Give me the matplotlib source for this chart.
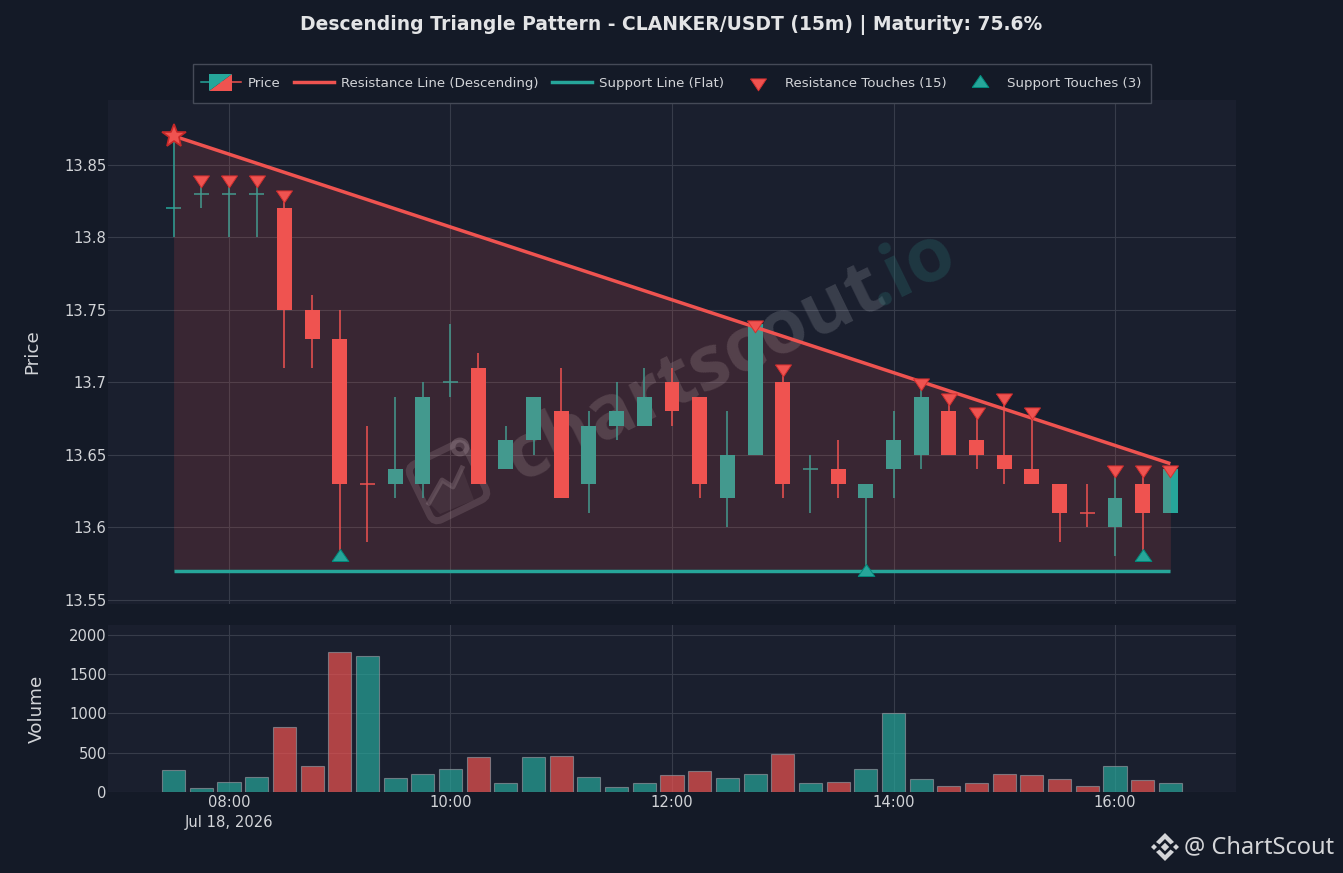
import pandas as pd
import matplotlib
matplotlib.use("Agg")
from matplotlib import pyplot as plt
from matplotlib.legend_handler import HandlerBase
from matplotlib.lines import Line2D
from matplotlib.patches import Polygon, Rectangle, FancyBboxPatch, Circle
from matplotlib.transforms import Affine2D

# 15 minute candles
times = pd.date_range("2026-07-18 07:30", "2026-07-18 16:30", freq="15min")
opens = [13.82, 13.83, 13.83, 13.83, 13.82, 13.75, 13.73, 13.63, 13.63, 13.63, 13.70, 13.71, 13.64,
         13.66, 13.68, 13.63, 13.67, 13.67, 13.70, 13.69, 13.62, 13.65, 13.70, 13.64, 13.64, 13.62,
         13.64, 13.65, 13.68, 13.66, 13.65, 13.64, 13.63, 13.61, 13.60, 13.63, 13.61]
closes = [13.82, 13.83, 13.83, 13.83, 13.75, 13.73, 13.63, 13.63, 13.64, 13.69, 13.70, 13.63, 13.66,
          13.69, 13.62, 13.67, 13.68, 13.69, 13.68, 13.63, 13.65, 13.74, 13.63, 13.64, 13.63, 13.63,
          13.66, 13.69, 13.65, 13.65, 13.64, 13.63, 13.61, 13.61, 13.62, 13.61, 13.64]
highs = [13.87, 13.84, 13.84, 13.84, 13.83, 13.76, 13.75, 13.67, 13.69, 13.70, 13.74, 13.72, 13.67,
         13.69, 13.71, 13.68, 13.70, 13.71, 13.71, 13.69, 13.68, 13.74, 13.71, 13.65, 13.66, 13.63,
         13.68, 13.70, 13.69, 13.68, 13.69, 13.68, 13.63, 13.63, 13.64, 13.64, 13.64]
lows = [13.80, 13.82, 13.80, 13.80, 13.71, 13.71, 13.58, 13.59, 13.62, 13.62, 13.69, 13.63, 13.64,
        13.65, 13.62, 13.61, 13.66, 13.67, 13.67, 13.62, 13.60, 13.65, 13.62, 13.61, 13.62, 13.57,
        13.62, 13.64, 13.65, 13.64, 13.63, 13.63, 13.59, 13.60, 13.58, 13.58, 13.61]
candle_up = [1, 1, 1, 1, 0, 0, 0, 0, 1, 1, 1, 0, 1, 1, 0, 1, 1, 1, 0, 0, 1, 1, 0, 1, 0, 1, 1, 1, 0, 0, 0, 0, 0, 0, 1, 0, 1]

volumes = [275, 50, 130, 190, 830, 330, 1780, 1730, 180, 225, 290, 440, 115, 450, 455, 190, 65, 115, 220,
           265, 180, 225, 480, 110, 125, 295, 1000, 165, 75, 110, 235, 215, 165, 80, 330, 150, 110]
volume_up = [1, 1, 1, 1, 0, 0, 0, 1, 1, 1, 1, 0, 1, 1, 0, 1, 1, 1, 0, 0, 1, 1, 0, 1, 0, 1, 1, 1, 0, 0, 0, 0, 0, 0, 1, 0, 1]

resistance_start = 13.87
resistance_end = 13.644
support_level = 13.57
star_index = 0
resistance_touch_index = [1, 2, 3, 4, 21, 22, 27, 28, 29, 30, 31, 34, 35, 36]
support_touch_index = [6, 25, 35]
support_touch_price = [13.58, 13.57, 13.58]

title = "Descending Triangle Pattern - CLANKER/USDT (15m) | Maturity: 75.6%"
hour_ticks = ["08:00", "10:00", "12:00", "14:00", "16:00"]
price_ticks = [13.55, 13.6, 13.65, 13.7, 13.75, 13.8, 13.85]
price_labels = ["13.55", "13.6", "13.65", "13.7", "13.75", "13.8", "13.85"]
volume_ticks = [0, 500, 1000, 1500, 2000]

PAGE = "#141a27"
PANEL = "#1a1f2e"
GREEN = "#26a69a"
RED = "#ef5350"
TEXT = "#d2d4d8"
GRID = "#373c4a"
MARK_GREY = "#a0a3ad"
W, H = 1343, 873

# flatter triangles than the built in v and ^, tip is off centre
TRI_DOWN = [(-1, 0.45), (1, 0.45), (0, -1.05), (-1, 0.45)]
TRI_UP = [(-1, -0.6), (1, -0.6), (0, 0.85), (-1, -0.6)]

plt.rcParams["font.family"] = "DejaVu Sans"
fig = plt.figure(figsize=(W / 100, H / 100), dpi=100, facecolor=PAGE)
ax = fig.add_axes([108 / W, 1 - 604 / H, 1128 / W, 504 / H], facecolor=PANEL)
ax_vol = fig.add_axes([108 / W, 1 - 792 / H, 1128 / W, 167 / H], facecolor=PANEL)

# pixel coords, origin top left, for the watermarks
px = Affine2D().scale(1, -1).translate(0, H)

day = "2026-07-18 "
xlim = [pd.Timestamp(day + "06:54:27"), pd.Timestamp(day + "17:05:33")]
tick_times = [pd.Timestamp(day + t) for t in hour_ticks]
body_w = pd.Timedelta(minutes=8.1)
bar_w = pd.Timedelta(minutes=12.5)

for a in (ax, ax_vol):
    a.set_xlim(xlim)
    a.set_xticks(tick_times)
    a.grid(color=GRID, linewidth=0.8, zorder=0)
    a.set_axisbelow(True)
    for s in a.spines.values():
        s.set_visible(False)
    a.tick_params(length=0, colors=TEXT, labelsize=10.6, pad=1)

# watermark, under the candles
ax.text(704, 391, "chartscout", transform=px, rotation=26, rotation_mode="anchor", ha="center", va="baseline",
        fontsize=55, fontweight="bold", family="Open Sans", color=MARK_GREY, alpha=0.24, zorder=1)
ax.text(877, 307, ".io", transform=px, rotation=26, rotation_mode="anchor", ha="left", va="baseline",
        fontsize=55, fontweight="bold", family="Open Sans", color="#2e8a85", alpha=0.23, zorder=1)
icon_rot = Affine2D().rotate_deg_around(448, 482, -26) + px
ax.add_patch(FancyBboxPatch((417, 451), 62, 62, boxstyle="round,pad=0,rounding_size=9", fill=False,
                            edgecolor=MARK_GREY, alpha=0.22, linewidth=5, transform=icon_rot, zorder=1))
ax.add_patch(Polygon([(429, 503), (442, 480), (453, 487), (462, 468), (474, 500), (440, 514)], color=MARK_GREY,
                     alpha=0.1, lw=0, transform=px, zorder=1))
ax.add_line(Line2D([429, 442, 453, 462], [503, 480, 487, 468], color=MARK_GREY, alpha=0.27, linewidth=3.5,
                   transform=px, zorder=1))
ax.add_patch(Circle((460, 447), 7, fill=False, edgecolor=MARK_GREY, alpha=0.32, linewidth=3.5,
                    transform=px, zorder=1))

# candles
for t, o, c, h, l, up in zip(times, opens, closes, highs, lows, candle_up):
    col = GREEN if up else RED
    ax.plot([t, t], [l, h], color=col, linewidth=1.1, zorder=2, solid_capstyle="butt")
    if o == c:
        ax.plot([t - body_w / 2, t + body_w / 2], [o, o], color=col, linewidth=1.1, zorder=2,
                solid_capstyle="butt")
    else:
        ax.bar(t, abs(c - o), bottom=min(o, c), width=body_w, color=col, zorder=2, linewidth=0)

# triangle region goes over the candles
ax.fill_between([times[0], times[-1]], [resistance_start, resistance_end], [support_level, support_level],
                color=RED, alpha=0.15, linewidth=0, zorder=3)
ax.plot([times[0], times[-1]], [resistance_start, resistance_end], color=RED, linewidth=2.5, zorder=4,
        solid_capstyle="butt")
ax.plot([times[0], times[-1]], [support_level, support_level], color=GREEN, linewidth=2.5, zorder=4,
        solid_capstyle="butt")

ax.plot([times[i] for i in resistance_touch_index], [highs[i] for i in resistance_touch_index], linestyle="",
        marker=TRI_DOWN, color=RED, markersize=12, markeredgecolor="#d32f2f", markeredgewidth=0.7, zorder=5)
ax.plot([times[star_index]], [highs[star_index]], "*", color=RED, markersize=18,
        markeredgecolor="#c62828", markeredgewidth=1.2, zorder=5)
ax.plot([times[i] for i in support_touch_index], support_touch_price, linestyle="", marker=TRI_UP, color=GREEN,
        markersize=12, markeredgecolor="#00897b", markeredgewidth=0.7, zorder=5)

ax.set_xticklabels([])
ax.set_ylim(13.5472, 13.8948)
ax.set_yticks(price_ticks)
ax.set_yticklabels(price_labels)
ax.set_ylabel("Price", color=TEXT, fontsize=13.2)
ax.yaxis.set_label_coords(-0.0594, 0.5)

# volume
vol_colors = [GREEN if u else RED for u in volume_up]
ax_vol.bar(times, volumes, width=bar_w, color=vol_colors, alpha=0.7, edgecolor="#8d9299", linewidth=0.8, zorder=2)
ax_vol.set_ylim(0, 2127)
ax_vol.set_yticks(volume_ticks)
ax_vol.set_xticks(tick_times)
ax_vol.set_xticklabels([hour_ticks[0] + "\nJul 18, 2026"] + hour_ticks[1:], linespacing=1.45)
ax_vol.xaxis.set_tick_params(pad=2)
ax_vol.set_ylabel("Volume", color=TEXT, fontsize=13.2)
ax_vol.yaxis.set_label_coords(-0.055, 0.5)


class CandleHandler(HandlerBase):
    def create_artists(self, legend, orig, xd, yd, width, height, fontsize, trans):
        cx = width / 2 - xd
        cy = height / 2 - yd
        bw = width * 0.575
        bh = 12.3
        right = Line2D([cx, width - xd], [cy, cy], color=RED, linewidth=1.1, transform=trans)
        left = Line2D([-xd, cx], [cy, cy], color=GREEN, linewidth=1.1, transform=trans)
        low = Polygon([[cx - bw / 2, cy - bh / 2], [cx + bw / 2, cy - bh / 2], [cx + bw / 2, cy + bh / 2]],
                      color=RED, lw=0, transform=trans)
        up = Polygon([[cx - bw / 2, cy - bh / 2], [cx - bw / 2, cy + bh / 2], [cx + bw / 2, cy + bh / 2]],
                     color=GREEN, lw=0, transform=trans)
        return [left, right, low, up]


fig.add_artist(Rectangle((192.5, 64), 958, 39, transform=px, facecolor=PAGE, edgecolor="#454a57", linewidth=1))
price_handle = Rectangle((0, 0), 1, 1)
handles = [
    price_handle,
    Line2D([], [], color=RED, linewidth=2.5),
    Line2D([], [], color=GREEN, linewidth=2.5),
    Line2D([], [], linestyle="", marker=TRI_DOWN, color=RED, markersize=12, markeredgecolor="#d32f2f", markeredgewidth=0.7),
    Line2D([], [], linestyle="", marker=TRI_UP, color=GREEN, markersize=12, markeredgecolor="#00897b", markeredgewidth=0.7),
]
labels = ["Price", "Resistance Line (Descending)", "Support Line (Flat)", "Resistance Touches (15)", "Support Touches (3)"]
leg = fig.legend(handles, labels, handler_map={price_handle: CandleHandler()}, ncols=5, loc="center",
                 bbox_to_anchor=(671 / W, 1 - 83.5 / H), fontsize=9.65, labelcolor=TEXT, frameon=False,
                 handlelength=3.0, handletextpad=0.52, columnspacing=1.0, borderpad=0, handleheight=0.9)

fig.text(671.5 / W, 1 - 25 / H, title, ha="center", va="center", color="#e3e4e6", fontsize=13.5, fontweight="bold")

# bottom right logo
LOGO = "#d4d5d8"
cx, cy = 1165, 847
for dx, dy, r in [(0, 0, 4.2), (-11, 0, 3), (11, 0, 3)]:
    fig.add_artist(Polygon([[cx + dx - r, cy + dy], [cx + dx, cy + dy - r], [cx + dx + r, cy + dy], [cx + dx, cy + dy + r]],
                           color=LOGO, lw=0, transform=px))
for sign in (-1, 1):
    fig.add_artist(Polygon([[cx - 9, cy + sign * 5], [cx, cy + sign * 14], [cx + 9, cy + sign * 5], [cx + 5.5, cy + sign * 2.5],
                            [cx, cy + sign * 8], [cx - 5.5, cy + sign * 2.5]], color=LOGO, lw=0, transform=px))
fig.text(1184 / W, 1 - 847 / H, "@ ChartScout", ha="left", va="center", color=LOGO, fontsize=17,
         family="Noto Sans")

fig.savefig("out.png", dpi=100, facecolor=fig.get_facecolor())
